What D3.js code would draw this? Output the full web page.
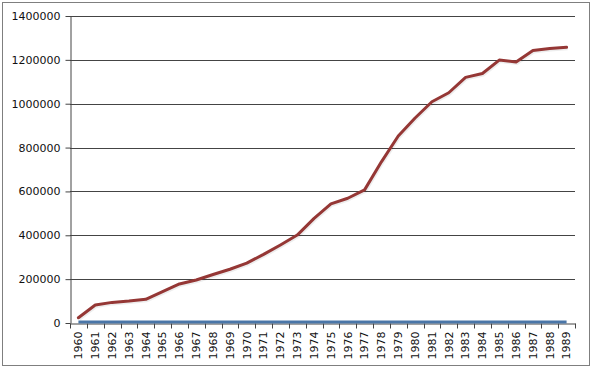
<!DOCTYPE html>
<html>
<head>
<meta charset="utf-8">
<script src="https://cdn.jsdelivr.net/npm/d3@7"></script>
<style>
  body { margin: 0; background: #fff; }
  svg { display: block; font-family: "DejaVu Sans", Verdana, sans-serif; }
</style>
</head>
<body>
<svg id="chart"></svg>
<script>
const years = d3.range(1960, 1990).map(String);
const seriesA = [24000, 82000, 94000, 100000, 108000, 143000, 178000, 196000, 221000, 245000,
  273000, 313000, 356000, 401000, 477000, 543000, 569000, 607000, 735000, 853000,
  935000, 1009000, 1050000, 1120000, 1138000, 1199000, 1190000, 1243000, 1252000, 1257000];
const seriesB = years.map(() => 0);
const yTicks = [0, 200000, 400000, 600000, 800000, 1000000, 1200000, 1400000];

const width = 593, height = 370;
const margin = { top: 16, right: 18, bottom: 47, left: 70 };

const svg = d3.select("#chart").attr("width", width).attr("height", height);

// outer frame
svg.append("rect")
  .attr("x", 2.5).attr("y", 2.5)
  .attr("width", 587).attr("height", 363)
  .attr("fill", "#fff")
  .attr("stroke", "#7f7f7f");

const x = d3.scaleBand().domain(years).range([margin.left, width - margin.right]);
const y = d3.scaleLinear().domain([0, 1400000]).range([height - margin.bottom, margin.top]);

// gridlines
svg.append("g")
  .selectAll("line")
  .data(yTicks.filter(d => d > 0))
  .join("line")
  .attr("x1", margin.left).attr("x2", width - margin.right)
  .attr("y1", d => Math.round(y(d)) + 0.5).attr("y2", d => Math.round(y(d)) + 0.5)
  .attr("stroke", "#444");

// y axis
const yAxis = svg.append("g")
  .attr("transform", `translate(${margin.left + 0.5},0)`)
  .call(d3.axisLeft(y).tickValues(yTicks).tickFormat(d3.format("d")).tickSize(5).tickSizeOuter(0));
yAxis.select(".domain").attr("stroke", "#444");
yAxis.selectAll(".tick line").attr("stroke", "#444");
yAxis.selectAll(".tick text")
  .attr("x", -10)
  .attr("font-size", 11).attr("fill", "#111")
  .attr("font-family", "DejaVu Sans, Verdana, sans-serif");

// x axis
const xAxis = svg.append("g")
  .attr("transform", `translate(0,${Math.round(y(0)) + 0.5})`)
  .call(d3.axisBottom(x).tickSize(0).tickSizeOuter(0));
xAxis.select(".domain").attr("stroke", "#444");
xAxis.selectAll(".tick line").remove();
// tick marks at band boundaries
xAxis.selectAll(".bound")
  .data(years.concat(["end"]))
  .join("line")
  .attr("x1", (d, i) => Math.round(margin.left + i * x.step()) + 0.5)
  .attr("x2", (d, i) => Math.round(margin.left + i * x.step()) + 0.5)
  .attr("y1", 0).attr("y2", 5)
  .attr("stroke", "#444");
xAxis.selectAll(".tick text")
  .attr("transform", "rotate(-90)")
  .attr("text-anchor", "end")
  .attr("x", -8).attr("y", 0).attr("dy", "0.35em")
  .attr("font-size", 11).attr("fill", "#111")
  .attr("font-family", "DejaVu Sans, Verdana, sans-serif");

const line = d3.line()
  .x((d, i) => x(years[i]) + x.bandwidth() / 2)
  .y(d => y(d));

// series B (near zero)
svg.append("path")
  .datum(seriesB)
  .attr("d", line)
  .attr("transform", "translate(0,-1)")
  .attr("fill", "none")
  .attr("stroke", "#4a76a8")
  .attr("stroke-width", 3);

// series A shadow + line
svg.append("path")
  .datum(seriesA)
  .attr("d", line)
  .attr("transform", "translate(1,1.5)")
  .attr("fill", "none")
  .attr("stroke", "rgba(0,0,0,0.07)")
  .attr("stroke-width", 3)
  .attr("stroke-linejoin", "round");

svg.append("path")
  .datum(seriesA)
  .attr("d", line)
  .attr("fill", "none")
  .attr("stroke", "#953735")
  .attr("stroke-width", 3)
  .attr("stroke-linejoin", "round")
  .attr("stroke-linecap", "round");
</script>
</body>
</html>
